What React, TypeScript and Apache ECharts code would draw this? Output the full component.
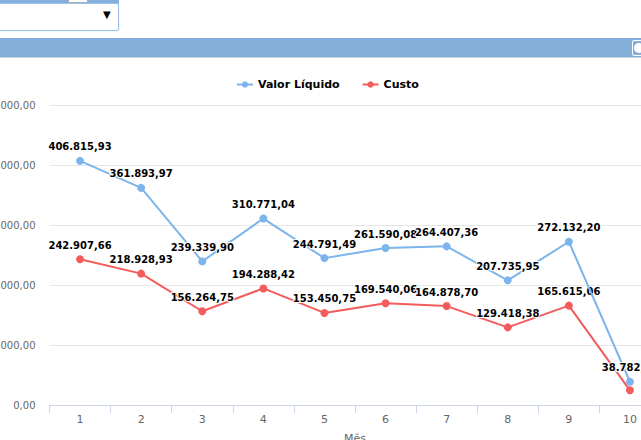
import React, { useEffect, useRef } from "react";
import * as echarts from "echarts";

const categories = ["1", "2", "3", "4", "5", "6", "7", "8", "9", "10"];
const valorLiquido = [406815.93, 361893.97, 239339.9, 310771.04, 244791.49, 261590.08, 264407.36, 207735.95, 272132.2, 38782.41];
const custo = [242907.66, 218928.93, 156264.75, 194288.42, 153450.75, 169540.06, 164878.7, 129418.38, 165615.06, 24500.0];
const custoLabelHidden = [false, false, false, false, false, false, false, false, false, true];

function fmt(v: number): string {
  const fixed = Math.abs(v).toFixed(2);
  const [intPart, dec] = fixed.split(".");
  const withDots = intPart.replace(/\B(?=(\d{3})+(?!\d))/g, ".");
  return (v < 0 ? "-" : "") + withDots + "," + dec;
}

const labelStyle = {
  show: true,
  position: "top" as const,
  distance: 5,
  color: "#000",
  fontFamily: "DejaVu Sans",
  fontSize: 10,
  fontWeight: "bold" as const,
  textBorderColor: "#fff",
  textBorderWidth: 2,
  formatter: (p: any) => fmt(p.value),
};

export default function App() {
  const ref = useRef<HTMLDivElement>(null);
  useEffect(() => {
    if (!ref.current) return;
    const chart = echarts.init(ref.current, undefined, { renderer: "svg" });
    chart.setOption({
      animation: false,
      textStyle: { fontFamily: "DejaVu Sans" },
      legend: {
        left: 231,
        top: 74,
        itemWidth: 16,
        itemHeight: 8,
        itemGap: 22,
        textStyle: { fontFamily: "DejaVu Sans", fontSize: 11, fontWeight: "bold", color: "#000" },
        data: ["Valor Líquido", "Custo"],
      },
      grid: { left: 49.5, top: 105, width: 611, bottom: 35, containLabel: false, outerBoundsMode: "none" },
      xAxis: {
        type: "category",
        data: categories,
        boundaryGap: true,
        name: "Mês",
        nameLocation: "middle",
        nameGap: 28,
        nameTextStyle: { color: "#666", fontSize: 11, fontFamily: "DejaVu Sans" },
        axisLine: { lineStyle: { color: "#ccd6eb" } },
        axisTick: { show: true, length: 8, lineStyle: { color: "#ccd6eb" } },
        axisLabel: { color: "#666", fontSize: 11, margin: 9, fontFamily: "DejaVu Sans" },
      },
      yAxis: {
        type: "value",
        min: 0,
        max: 500000,
        interval: 100000,
        axisLine: { show: false },
        axisTick: { show: false },
        splitLine: { lineStyle: { color: "#e6e6e6" } },
        axisLabel: { color: "#666", fontSize: 10, margin: 14, fontFamily: "DejaVu Sans", formatter: (v: number) => fmt(v) },
      },
      series: [
        {
          name: "Valor Líquido",
          type: "line",
          data: valorLiquido,
          color: "#7cb5ec",
          lineStyle: { width: 2 },
          symbol: "circle",
          symbolSize: 8,
          label: labelStyle,
          z: 3,
        },
        {
          name: "Custo",
          type: "line",
          data: custo.map((v, i) => ({ value: v, label: { show: !custoLabelHidden[i] } })),
          color: "#f45b5b",
          lineStyle: { width: 2 },
          symbol: "circle",
          symbolSize: 8,
          label: labelStyle,
          z: 2,
        },
      ],
    });
    return () => chart.dispose();
  }, []);

  return (
    <div style={{ position: "fixed", left: 0, top: 0, width: 641, height: 440, overflow: "hidden", background: "#fff" }}>
      <div ref={ref} style={{ position: "absolute", left: 0, top: 0, width: 700, height: 440 }} />
      <div style={{ position: "absolute", left: 0, top: 0, width: 119, height: 4, background: "#84afdb" }} />
      <div style={{ position: "absolute", left: 68, top: 0, width: 18, height: 2, background: "#fff", border: "1px solid #aaa", borderTop: "none" }} />
      <div
        style={{
          position: "absolute",
          left: -2,
          top: 3,
          width: 119,
          height: 26,
          background: "#fff",
          border: "1px solid #9dc0ea",
          borderRadius: 2,
          boxShadow: "0 0 1px #9dc0ea",
        }}
      >
        <span style={{ position: "absolute", left: 104, top: 5, fontSize: 10, fontFamily: "DejaVu Sans", color: "#000" }}>▼</span>
      </div>
      <div style={{ position: "absolute", left: 0, top: 38, width: 641, height: 19, background: "#84afdb", borderBottom: "1px solid #c8d4e0" }} />
      <div
        style={{
          position: "absolute",
          left: 632,
          top: 40,
          width: 12,
          height: 14,
          border: "1px solid #fff",
          borderRadius: 2,
          background: "#84afdb",
        }}
      >
        <div style={{ position: "absolute", left: 1, top: 2, width: 10, height: 10, borderRadius: 5, background: "#fff" }} />
      </div>
    </div>
  );
}
